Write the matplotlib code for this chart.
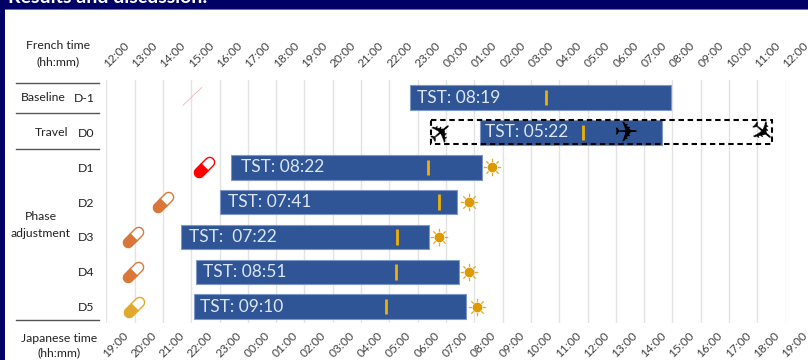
import numpy as np
import matplotlib
matplotlib.use("Agg")
import matplotlib.pyplot as plt
from matplotlib.patches import Rectangle
from matplotlib.path import Path
from matplotlib.transforms import Affine2D, ScaledTranslation

plt.rcParams["font.family"] = ["Lato", "DejaVu Sans"]

W, H = 808, 360

# Hours since 12:00 French time
french_ticks = ["12:00", "13:00", "14:00", "15:00", "16:00", "17:00", "18:00", "19:00", "20:00",
                "21:00", "22:00", "23:00", "00:00", "01:00", "02:00", "03:00", "04:00", "05:00",
                "06:00", "07:00", "08:00", "09:00", "10:00", "11:00", "12:00"]
japanese_ticks = ["19:00", "20:00", "21:00", "22:00", "23:00", "00:00", "01:00", "02:00", "03:00",
                  "04:00", "05:00", "06:00", "07:00", "08:00", "09:00", "10:00", "11:00", "12:00",
                  "13:00", "14:00", "15:00", "16:00", "17:00", "18:00", "19:00"]
days = ["D-1", "D0", "D1", "D2", "D3", "D4", "D5"]
bar_start = [10.74, 13.19, 4.39, 4.00, 2.65, 3.17, 3.11]
bar_end = [19.95, 19.64, 13.27, 12.38, 11.39, 12.46, 12.71]
tst_labels = ["TST: 08:19", "TST: 05:22", "TST: 08:22", "TST: 07:41", "TST:  07:22", "TST: 08:51", "TST: 09:10"]
midpoints = [15.52, 16.84, 11.36, 11.74, 10.26, 10.22, 9.87]

pill_rows = [2, 3, 4, 5, 6]
pill_hours = [3.45, 1.99, 0.96, 0.96, 0.99]
pill_colors = ["#ff0000", "#d9773a", "#d9773a", "#d9773a", "#e0a82e"]
sun_hours = [13.64, 12.83, 11.76, 12.83, 13.10]

flight_start = 11.46
flight_end = 23.50
plane_hours = [11.87, 18.35, 23.05]
plane_angles = [40, 0, -40]

label_pad = [6.4, 5, 10, 8.6, 8, 7.3, 5.7]


def px_x(x):
    return x / W


def px_y(y):
    return 1 - y / H


def half_pill(side, c=1.5):
    # one half of a capsule lying along x, turned 45 degrees
    t = np.radians(np.linspace(90, 270, 25))
    pts = np.column_stack([np.cos(t) - c, np.sin(t)])
    pts = np.vstack([pts, [0, -1], [0, 1], pts[:1]])
    if side == "right":
        pts = pts * [-1, 1]
    return Path(Affine2D().rotate_deg(45).transform(pts), closed=True)


def sun_rays():
    verts, codes = [], []
    for a in np.radians(np.arange(0, 360, 45)):
        verts += [(0.62 * np.cos(a), 0.62 * np.sin(a)), (np.cos(a), np.sin(a))]
        codes += [Path.MOVETO, Path.LINETO]
    return Path(verts, codes)


fig = plt.figure(figsize=(W / 100, H / 100), dpi=100, facecolor="white")

# Slide frame behind the chart
navy = "#000066"
fig.patches.append(Rectangle((0, px_y(9)), 1, 9 / H, transform=fig.transFigure, color=navy, lw=0))
fig.patches.append(Rectangle((0, 0), px_x(5), 1, transform=fig.transFigure, color=navy, lw=0))
fig.patches.append(Rectangle((px_x(5), px_y(9.7)), 1, 1 / H, transform=fig.transFigure, color="#6f73b5", lw=0))
fig.text(px_x(8), px_y(3), "Results and discussion:", color="white", fontsize=14, fontweight="bold", va="baseline")

ax = fig.add_axes([px_x(106.3), px_y(323), (785.7 - 106.3) / W, (323 - 80) / H])
ax.patch.set_alpha(0)
ax.set_xlim(0, 24)
ax.set_ylim(6.468, -0.505)
for s in ax.spines.values():
    s.set_visible(False)

hours = np.arange(25)
ax.set_xticks(hours, japanese_ticks, rotation=45, ha="center", va="top")
ax.tick_params(axis="x", length=0, pad=5, labelsize=8.6, labelcolor="#404040")
ax.grid(axis="x", color="#e3e3e3", lw=1)
ax.set_axisbelow(True)
for lab in ax.get_xticklabels():
    lab.set_transform(lab.get_transform() + ScaledTranslation(9 / 100, 0, fig.dpi_scale_trans))

top = ax.secondary_xaxis("top")
top.set_xticks(hours, french_ticks, rotation=45, ha="center", va="bottom")
top.tick_params(length=0, pad=7.5, labelsize=8.6, labelcolor="#404040")
for s in top.spines.values():
    s.set_visible(False)
for lab in top.get_xticklabels():
    lab.set_transform(lab.get_transform() + ScaledTranslation(10 / 100, 0, fig.dpi_scale_trans))

rows = np.arange(len(days))
ax.set_yticks(rows, days)
ax.tick_params(axis="y", length=0, pad=8.5, labelsize=8.8, labelcolor="#222222")

starts = np.array(bar_start)
ends = np.array(bar_end)
ax.barh(rows, ends - starts, left=starts, height=0.705, color="#2f5597", edgecolor="#7d98c8", lw=0.8, zorder=2)
ax.vlines(midpoints, rows - 0.22, rows + 0.22, color="#f0b000", lw=2, zorder=3)

for r, s, lab, pad in zip(rows, bar_start, tst_labels, label_pad):
    ax.annotate(lab, (s, r), xytext=(pad * 0.72, 0), textcoords="offset points", color="#dde6f4",
                fontsize=12.5, va="center", ha="left", zorder=4)

# Flight window
ax.add_patch(Rectangle((flight_start, 1 - 0.345), flight_end - flight_start, 0.69, fill=False,
                       ec="black", lw=1.5, ls=(0, (2.6, 1.8)), zorder=5))
for h, ang in zip(plane_hours, plane_angles):
    ax.text(h, 1.03, "\u2708", fontsize=21, family="DejaVu Sans", color="black", ha="center", va="center",
            rotation=ang, rotation_mode="anchor", zorder=6)

# Pills
for r, h, c in zip(pill_rows, pill_hours, pill_colors):
    ax.plot(h, r, marker=half_pill("right"), ms=14.5, mfc="white", mec=c, mew=1, zorder=4)
    ax.plot(h, r, marker=half_pill("left"), ms=14.5, mfc=c, mec=c, mew=1, zorder=4)

# Suns
ax.plot(sun_hours, pill_rows, ls="none", marker="o", ms=6, mfc="#dd9a00", mec="#dd9a00", zorder=4)
ax.plot(sun_hours, pill_rows, ls="none", marker=sun_rays(), ms=12.6, mfc="none", mec="#e8a818", mew=0.9, zorder=4)

# Stray red stroke in the baseline row
ax.plot([2.71, 3.37], [0.22, -0.29], color="#f4b4ba", lw=0.6, zorder=1)

# Group separators and side labels
for y in [83, 112.7, 149.3, 320.3]:
    fig.add_artist(plt.Line2D([px_x(15.5), px_x(98.5)], [px_y(y), px_y(y)], color="#555555", lw=1))

side = dict(fontsize=8.8, color="#222222", ha="center", va="center")
fig.text(px_x(58), px_y(45.5), "French time", **side)
fig.text(px_x(58), px_y(62), "(hh:mm)", **side)
fig.text(px_x(43), px_y(97.5), "Baseline", **side)
fig.text(px_x(51.5), px_y(132.5), "Travel", **side)
fig.text(px_x(40.5), px_y(216.5), "Phase", **side)
fig.text(px_x(40.5), px_y(233.5), "adjustment", **side)
fig.text(px_x(59), px_y(338), "Japanese time", **side)
fig.text(px_x(59), px_y(353), "(hh:mm)", **side)

fig.savefig("out.png", dpi=100)
